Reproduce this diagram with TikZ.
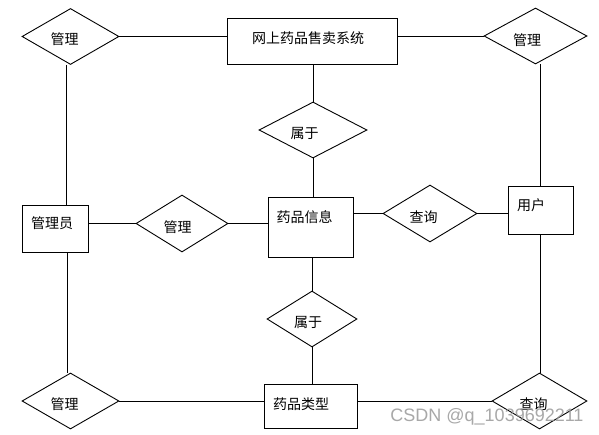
\documentclass[tikz,border=0pt]{standalone}
\usepackage{fontspec}
\newfontfamily\cjk{Noto Sans CJK SC}
\newfontfamily\wmfont{Liberation Sans}
\usetikzlibrary{shapes.geometric}
\tikzset{
  ent/.style={draw=black, line width=0.9pt, rectangle, inner sep=0pt, fill=white},
  rel/.style={draw=black, line width=0.9pt, diamond, inner sep=0pt, fill=white},
  txt/.style={font=\cjk\fontsize{14}{14}\selectfont, inner sep=0pt},
  conn/.style={draw=black, line width=0.9pt},
}
\begin{document}
\begin{tikzpicture}[x=1pt,y=-1pt]
\useasboundingbox[fill=white] (0,0) rectangle (599,435);
% entities
\node[ent, minimum width=170pt, minimum height=46pt] (sys) at (312,41) {};
\node[ent, minimum width=85pt, minimum height=60pt] (info) at (310.5,227) {};
\node[ent, minimum width=66pt, minimum height=47pt] (adm) at (55,228.5) {};
\node[ent, minimum width=65pt, minimum height=48pt] (user) at (540.5,210) {};
\node[ent, minimum width=93pt, minimum height=44pt] (type) at (310.5,406) {};
% relations
\node[rel, minimum width=97pt, minimum height=56pt] (d1) at (70.5,36.5) {};
\node[rel, minimum width=103pt, minimum height=56pt] (d2) at (535.5,36) {};
\node[rel, minimum width=108pt, minimum height=56pt] (s1) at (313,130) {};
\node[rel, minimum width=92pt, minimum height=57pt] (m1) at (182,223.5) {};
\node[rel, minimum width=94pt, minimum height=57pt] (q1) at (430,213.5) {};
\node[rel, minimum width=90pt, minimum height=56pt] (s2) at (312,319) {};
\node[rel, minimum width=97pt, minimum height=56pt] (d5) at (70.5,401) {};
\node[rel, minimum width=95pt, minimum height=56pt] (q2) at (539.5,401) {};
% texts
\node[txt] (tsys) at (308,38) {网上药品售卖系统};
\node[txt] (tinfo) at (304.5,217) {药品信息};
\node[txt] (tadm) at (52,223) {管理员};
\node[txt] (tuser) at (531,205) {用户};
\node[txt] (ttype) at (301,404) {药品类型};
\node[txt] (td1) at (64.5,39) {管理};
\node[txt] (td2) at (527,40) {管理};
\node[txt] (ts1) at (304.5,133) {属于};
\node[txt] (tm1) at (177.5,227) {管理};
\node[txt] (tq1) at (423.5,217) {查询};
\node[txt] (ts2) at (308,322) {属于};
\node[txt] (td5) at (64.5,404) {管理};
\node[txt] (tq2) at (533.5,404) {查询};
% connectors
\draw[conn] (d1.east) -- (d1.east -| sys.west);
\draw[conn] (d2.west -| sys.east) -- (d2.west);
\draw[conn] (s1.north |- sys.south) -- (s1.north);
\draw[conn] (s1.south) -- (s1.south |- info.north);
\draw[conn] ([xshift=-4.5pt]d1.south) -- ([xshift=-4.5pt]d1.south |- adm.north);
\draw[conn] ([xshift=-3.5pt]d5.north |- adm.south) -- ([xshift=-3.5pt]d5.north);
\draw[conn] (adm.east |- m1.west) -- (m1.west);
\draw[conn] (m1.east) -- (m1.east -| info.west);
\draw[conn] (info.east |- q1.west) -- (q1.west);
\draw[conn] (q1.east) -- (q1.east -| user.west);
\draw[conn] (d2.south -| user.north) -- (user.north);
\draw[conn] (user.south) -- (user.south |- q2.north);
\draw[conn] (s2.north |- info.south) -- (s2.north);
\draw[conn] (s2.south) -- (s2.south |- type.north);
\draw[conn] (d5.east) -- (d5.east -| type.west);
\draw[conn] (type.east |- q2.west) -- (q2.west);
% watermark
\node[font=\wmfont\fontsize{18}{18}\selectfont, text=black!40, fill opacity=0, text opacity=0.85, inner sep=0pt] (wm) at (487,417) {CSDN @q\_1039692211};
\end{tikzpicture}
\end{document}
